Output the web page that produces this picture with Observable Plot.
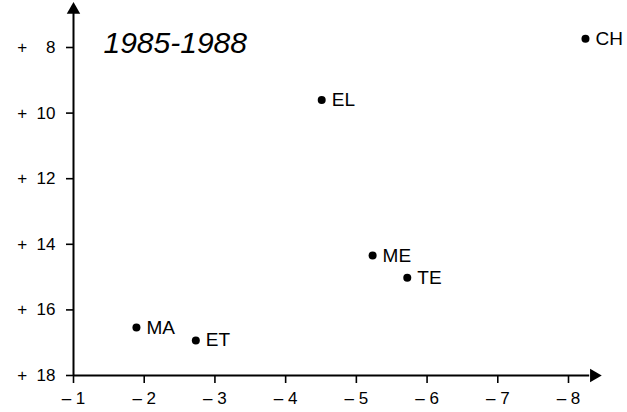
<!DOCTYPE html>
<html>
<head>
<meta charset="utf-8">
<script src="https://cdn.jsdelivr.net/npm/d3@7"></script>
<script src="https://cdn.jsdelivr.net/npm/@observablehq/plot@0.6"></script>
<style>
  html, body { margin: 0; padding: 0; background: #fff; }
  #chart svg { display: block; }
</style>
</head>
<body>
<div id="chart"></div>
<script>
const labels = ["CH", "EL", "ME", "TE", "MA", "ET"];
const xValues = [-8.24, -4.51, -5.23, -5.72, -1.89, -2.73];
const yValues = [7.73, 9.6, 14.34, 15.02, 16.54, 16.93];
const xTicks = [-1, -2, -3, -4, -5, -6, -7, -8];
const yTicks = [8, 10, 12, 14, 16, 18];
const xTickLabels = ["\u2013\u00a01", "\u2013\u00a02", "\u2013\u00a03", "\u2013\u00a04", "\u2013\u00a05", "\u2013\u00a06", "\u2013\u00a07", "\u2013\u00a08"];
const yTickLabels = ["+\u00a0\u00a0\u00a0\u00a08", "+\u00a0\u00a010", "+\u00a0\u00a012", "+\u00a0\u00a014", "+\u00a0\u00a016", "+\u00a0\u00a018"];
const title = "1985-1988";

const points = labels.map((l, i) => ({label: l, x: xValues[i], y: yValues[i]}));
const xTickData = xTicks.map((v, i) => ({v, t: xTickLabels[i]}));
const yTickData = yTicks.map((v, i) => ({v, t: yTickLabels[i]}));

const chart = Plot.plot({
  width: 627,
  height: 412,
  marginLeft: 73,
  marginRight: 59,
  marginTop: 47,
  marginBottom: 37,
  style: {fontFamily: "Liberation Sans, Arial, sans-serif", fontSize: "17px", color: "#000", background: "#fff"},
  x: {domain: [-1, -8]},
  y: {domain: [18, 8]},
  marks: [
    Plot.axisX({ticks: xTicks, tickFormat: () => "", tickSize: 8, strokeWidth: 1.6, label: null}),
    Plot.axisY({ticks: yTicks, tickFormat: () => "", tickSize: 7, strokeWidth: 1.6, label: null}),
    Plot.text(xTickData, {x: "v", y: 18, text: "t", dy: 23, fontSize: 17, fill: "black"}),
    Plot.text(yTickData, {y: "v", x: -1, text: "t", dx: -18, textAnchor: "end", fontSize: 17, fill: "black"}),
    Plot.ruleX([-1], {y1: 18, y2: 6.9, strokeWidth: 2}),
    Plot.ruleY([18], {x1: -1, x2: -8.3, strokeWidth: 2}),
    Plot.dot([{x: -1, y: 6.85}], {x: "x", y: "y", symbol: "triangle", r: 5, fill: "black", stroke: "none"}),
    Plot.dot([{x: -8.36, y: 18}], {x: "x", y: "y", symbol: "triangle", r: 5, fill: "black", stroke: "none", rotate: 90}),
    Plot.dot(points, {x: "x", y: "y", r: 4, fill: "black", stroke: "none"}),
    Plot.text(points, {x: "x", y: "y", text: "label", textAnchor: "start", dx: 10, fontSize: 19, fill: "black"}),
    Plot.text([title], {frameAnchor: "top-left", dx: 30, dy: -16, fontSize: 30, fontStyle: "italic", fill: "black", textAnchor: "start", lineAnchor: "top"})
  ]
});
document.getElementById("chart").appendChild(chart);
</script>
</body>
</html>
